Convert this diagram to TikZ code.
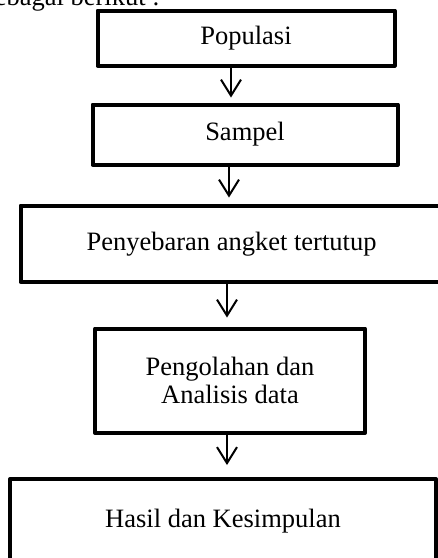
\documentclass[tikz,border=0pt]{standalone}
\usepackage{fontspec}
\setmainfont{Liberation Serif}
\usetikzlibrary{arrows.meta}
\tikzset{
  stepbox/.style={draw=black, line width=2pt, rectangle, align=center,
    line join=round, inner sep=0pt},
  flow/.style={-{Straight Barb[length=8pt, width=10pt]}, line width=1pt}
}
\begin{document}
\begin{tikzpicture}[x=0.5pt, y=-0.5pt, font=\fontsize{13.25pt}{14pt}\selectfont]
  \useasboundingbox (0,0) rectangle (438,558);
  % text above the chart (cut off by the page)
  \node[anchor=base east, inner sep=0pt] (intro) at (160,5) {sebagai berikut :};
  % steps
  \node[stepbox, minimum width=148.5pt, minimum height=27.5pt] (pop) at (246,38) {Populasi};
  \node[stepbox, minimum width=152.5pt, minimum height=30pt] (smp) at (245,134.5) {Sampel};
  \node[stepbox, minimum width=211pt, minimum height=38.25pt] (ang) at (231.5,243.75) {Penyebaran angket tertutup};
  \node[stepbox, minimum width=135pt, minimum height=52.25pt] (olah) at (230,380.75) {Pengolahan dan\\Analisis data};
  \node[stepbox, minimum width=213pt, minimum height=42pt] (hasil) at (223,521) {Hasil dan Kesimpulan};
  % arrows between the steps
  \draw[flow, shorten >=2.5pt] (pop.south -| 231,0) -- (smp.north -| 231,0);
  \draw[flow, shorten >=3pt] (smp.south -| 229,0) -- (ang.north -| 229,0);
  \draw[flow, shorten >=4.5pt] (ang.south -| 227,0) -- (olah.north -| 227,0);
  \draw[flow, shorten >=6pt] (olah.south -| 227,0) -- (hasil.north -| 227,0);
\end{tikzpicture}
\end{document}
